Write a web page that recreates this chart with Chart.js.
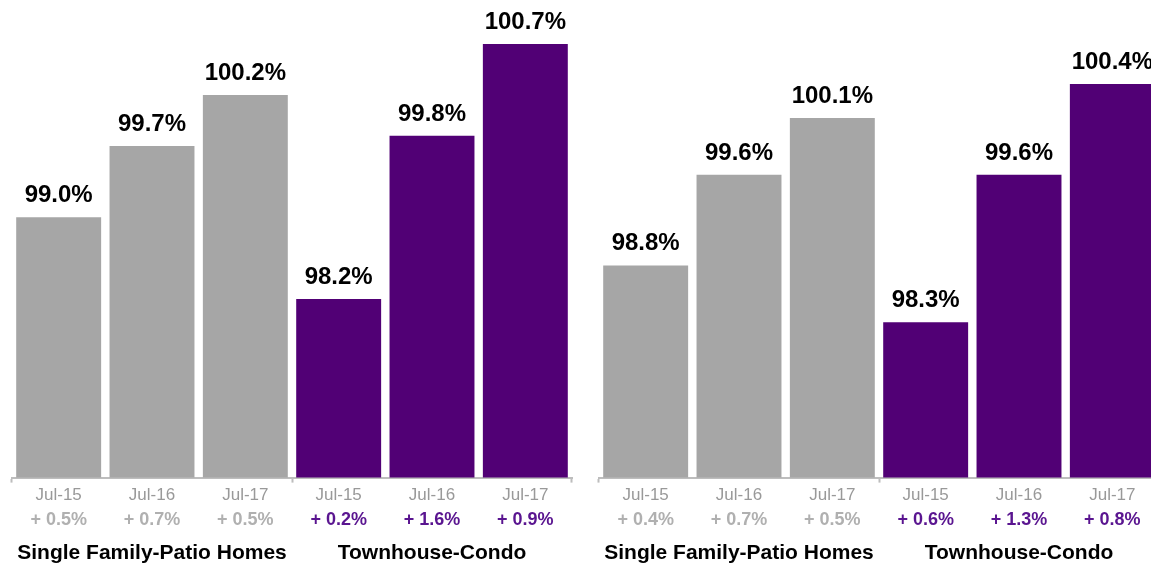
<!DOCTYPE html>
<html>
<head>
<meta charset="utf-8">
<script src="https://cdn.jsdelivr.net/npm/chart.js@4"></script>
<style>
    html, body { margin: 0; padding: 0; background: #fff; overflow: hidden; }
    .panel { position: absolute; top: 0; width: 584px; height: 566px; }
    #leftPanel { left: 0; }
    #rightPanel { left: 587px; }
</style>
</head>
<body>
<div class="panel" id="leftPanel"><canvas id="leftChart" width="584" height="566"></canvas></div>
<div class="panel" id="rightPanel"><canvas id="rightChart" width="584" height="566"></canvas></div>
<script>
const months = ['Jul-15', 'Jul-16', 'Jul-17'];
const groups = ['Single Family-Patio Homes', 'Townhouse-Condo'];

// levi panel
const leftSingleFamily = [99.0, 99.7, 100.2];
const leftTownhouse = [98.2, 99.8, 100.7];
const leftSingleFamilyChange = [0.5, 0.7, 0.5];
const leftTownhouseChange = [0.2, 1.6, 0.9];

// desni panel
const rightSingleFamily = [98.8, 99.6, 100.1];
const rightTownhouse = [98.3, 99.6, 100.4];
const rightSingleFamilyChange = [0.4, 0.7, 0.5];
const rightTownhouseChange = [0.6, 1.3, 0.8];

const GRAY = '#a6a6a6';
const PURPLE = '#510075';
const FONT = "'Liberation Sans', Arial, Helvetica, sans-serif";

function buildChart(canvasId, singleFamily, townhouse, sfChange, thChange, yMin, yMax) {
    const ctx = document.getElementById(canvasId).getContext('2d');
    const values = singleFamily.concat(townhouse);
    const changes = sfChange.concat(thChange);
    const colors = singleFamily.map(() => GRAY).concat(townhouse.map(() => PURPLE));

    return new Chart(ctx, {
        type: 'bar',
        data: {
            labels: months.concat(months),
            datasets: [{
                data: values,
                backgroundColor: colors,
                borderWidth: 0,
                categoryPercentage: 1,
                barPercentage: 0.91
            }]
        },
        options: {
            responsive: false,
            animation: false,
            layout: { padding: { left: 12, right: 12, top: 0, bottom: 57 } },
            plugins: {
                legend: { display: false },
                tooltip: { enabled: false }
            },
            scales: {
                y: { display: false, min: yMin, max: yMax },
                x: {
                    border: { display: true, color: '#bdbdbd', width: 2 },
                    grid: {
                        offset: true,
                        drawOnChartArea: false,
                        tickLength: 5,
                        tickWidth: 2,
                        // crtice samo na granicama grupa
                        tickColor: (c) => (c.index === undefined || c.index % 3 === 0) ? '#bdbdbd' : 'rgba(0,0,0,0)'
                    },
                    ticks: {
                        color: '#999999',
                        padding: 3,
                        font: { family: FONT, size: 17 }
                    }
                }
            }
        },
        plugins: [{
            id: 'barValues',
            afterDatasetsDraw(chart) {
                const c = chart.ctx;
                const meta = chart.getDatasetMeta(0);
                c.save();
                c.font = 'bold 24px ' + FONT;
                c.fillStyle = '#000';
                c.textAlign = 'center';
                c.textBaseline = 'alphabetic';
                meta.data.forEach((bar, i) => {
                    c.fillText(values[i].toFixed(1) + '%', bar.x, bar.y - 15);
                });
                c.restore();
            }
        }, {
            id: 'changeAndGroups',
            afterDraw(chart) {
                const c = chart.ctx;
                const x = chart.scales.x;
                const bottom = chart.chartArea.bottom;
                c.save();
                c.textAlign = 'center';
                c.textBaseline = 'alphabetic';
                // promene u odnosu na prethodnu godinu
                c.font = 'bold 18px ' + FONT;
                changes.forEach((v, i) => {
                    c.fillStyle = i < 3 ? '#b0b0b0' : '#5a1590';
                    c.fillText('+ ' + v.toFixed(1) + '%', x.getPixelForValue(i), bottom + 47);
                });
                // nazivi grupa
                c.font = 'bold 21px ' + FONT;
                c.fillStyle = '#000';
                groups.forEach((g, gi) => {
                    const mid = (x.getPixelForValue(gi * 3) + x.getPixelForValue(gi * 3 + 2)) / 2;
                    c.fillText(g, mid, bottom + 81);
                });
                c.restore();
            }
        }]
    });
}

document.addEventListener('DOMContentLoaded', () => {
    buildChart('leftChart', leftSingleFamily, leftTownhouse, leftSingleFamilyChange, leftTownhouseChange, 96.45, 101.13);
    buildChart('rightChart', rightSingleFamily, rightTownhouse, rightSingleFamilyChange, rightTownhouseChange, 96.93, 101.14);
});
</script>
</body>
</html>
